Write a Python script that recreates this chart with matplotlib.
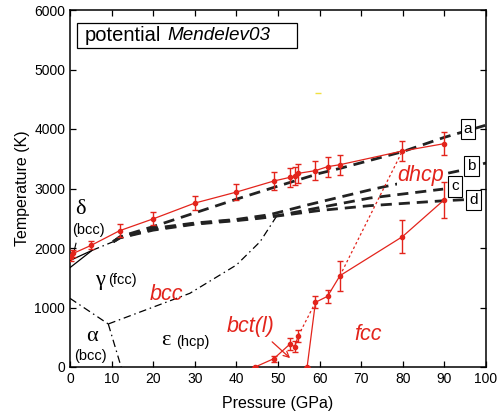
import matplotlib
matplotlib.use("Agg")
import matplotlib.pyplot as plt
from matplotlib.patches import Rectangle

plt.rcParams['font.family'] = ['Liberation Sans', 'DejaVu Sans']

RED = '#e3241c'

# upper melting curve (simulation)
melt_P = [0.3, 0.8, 5.1, 11.9, 20, 30, 40, 49, 52.9, 54, 54.9, 59, 61.9, 64.9, 79.9, 89.9]
melt_T = [1843, 1910, 2045, 2290, 2490, 2755, 2940, 3126, 3188, 3210, 3255, 3300, 3367, 3400, 3630, 3753]
melt_E = [60, 60, 70, 105, 110, 118, 140, 150, 155, 150, 160, 160, 170, 170, 175, 190]

# fcc solid-solid line
fcc_P = [57.0, 59.0, 61.9, 64.9, 79.9, 89.9]
fcc_T = [0, 1087, 1188, 1535, 2190, 2807]
fcc_E = [0, 100, 105, 250, 280, 300]

# bct(l) line
bct_P = [44.5, 49, 52.9, 54, 54.9]
bct_T = [0, 140, 387, 342, 527]
bct_E = [0, 50, 100, 90, 100]

# experimental melting curves a-d
a_P = [10.4, 12, 20, 30, 40, 50, 60, 65, 80, 90, 100]
a_T = [2106, 2190, 2360, 2590, 2820, 3040, 3255, 3340, 3620, 3860, 4065]
b_P = [10.4, 12, 20, 30, 40, 48, 57.7, 72.9, 93.7, 100]
b_T = [2106, 2180, 2330, 2420, 2480, 2560, 2734, 2990, 3300, 3430]
c_P = [10.4, 12, 20, 30, 40, 50, 63.3, 72.1, 89.7]
c_T = [2106, 2175, 2315, 2410, 2470, 2545, 2723, 2840, 2990]
d_P = [10.4, 12, 20, 30, 40, 45.7, 60, 72, 90, 100]
d_T = [2106, 2170, 2300, 2400, 2460, 2500, 2630, 2711, 2795, 2830]

curve_labels = ['a', 'b', 'c', 'd']
label_P = [95.7, 96.5, 92.5, 97.0]
label_T = [4003, 3373, 3034, 2807]

# known iron phase boundaries (dash-dot)
ag_P = [0, 9.2]
ag_T = [1154, 723]
ae_P = [9.2, 12.3]
ae_T = [723, 0]
ge_P = [9.2, 28.8, 40, 45.7, 49.7]
ge_T = [723, 1238, 1714, 2106, 2538]
gl_P = [5.3, 10.4]
gl_T = [1960, 2106]
# delta region boundaries (solid)
dg1_P = [0, 5.3]
dg1_T = [1670, 1960]
dg2_P = [0, 5.3]
dg2_T = [1790, 1960]

fig = plt.figure(figsize=(5.01, 4.16), dpi=100)
ax = fig.add_axes([70/501, 49/416, 416/501, 357/416])

# black phase boundaries
for P, T in [(ag_P, ag_T), (ae_P, ae_T), (ge_P, ge_T), (gl_P, gl_T)]:
    ax.plot(P, T, color='black', lw=0.9, dashes=(6, 3, 1.2, 3))
for P, T in [(dg1_P, dg1_T), (dg2_P, dg2_T)]:
    ax.plot(P, T, color='black', lw=0.9)
ax.plot([1.44, 0.65], [2079, 1854], color='black', lw=0.8)

for P, T in [(a_P, a_T), (b_P, b_T), (c_P, c_T), (d_P, d_T)]:
    ax.plot(P, T, color='#222222', lw=2.0, dashes=(4, 2.5))

# red curves
for P, T, E in [(melt_P, melt_T, melt_E), (fcc_P, fcc_T, fcc_E), (bct_P, bct_T, bct_E)]:
    ax.errorbar(P, T, yerr=E, color=RED, lw=0.9, marker='o', ms=3,
                ecolor=RED, elinewidth=1.0, capsize=2, capthick=1.0, zorder=12)
# dotted connections
ax.plot([bct_P[-1], fcc_P[1]], [bct_T[-1], fcc_T[1]], color=RED, lw=0.9, ls=(0, (2, 2)), zorder=4)
ax.plot([fcc_P[3], melt_P[14]], [fcc_T[3], melt_T[14]], color=RED, lw=0.9, ls=(0, (2, 2)), zorder=4)

# label boxes a-d
for lab, P, T in zip(curve_labels, label_P, label_T):
    ax.text(P, T, lab, ha='center', va='center', fontsize=11, zorder=10,
            bbox=dict(boxstyle='square,pad=0.2', fc='white', ec='black', lw=0.8))

# title box
ax.text(0.036, 0.928, 'potential', transform=ax.transAxes, fontsize=14.5,
        ha='left', va='center', zorder=10)
ax.text(0.233, 0.928, 'Mendelev03', transform=ax.transAxes, fontsize=13.6,
        style='italic', ha='left', va='center', zorder=10)
ax.add_patch(Rectangle((7.3/416, (367-48.3)/357), (296.7-77.3)/416, 25/357,
                       transform=ax.transAxes, fill=False, ec='black', lw=0.9, zorder=9))

# region labels
serif = ['Liberation Serif', 'DejaVu Serif']
ax.text(2.4, 2645, 'δ', family=serif, fontsize=16, ha='center', va='center')
ax.text(4.4, 2310, '(bcc)', fontsize=10.5, ha='center', va='center')
ax.text(7.2, 1460, 'γ', family=serif, fontsize=16, ha='center', va='center')
ax.text(12.5, 1460, '(fcc)', fontsize=10.5, ha='center', va='center')
ax.text(5.2, 510, 'α', family=serif, fontsize=16, ha='center', va='center')
ax.text(4.8, 190, '(bcc)', fontsize=10.5, ha='center', va='center')
ax.text(23.1, 440, 'ε', family=serif, fontsize=16, ha='center', va='center')
ax.text(29.6, 420, '(hcp)', fontsize=10.5, ha='center', va='center')

ax.text(23.3, 1220, 'bcc', color=RED, style='italic', fontsize=15.5, ha='center', va='center')
ax.text(43.3, 680, 'bct(l)', color=RED, style='italic', fontsize=15.5, ha='center', va='center')
ax.text(71.7, 540, 'fcc', color=RED, style='italic', fontsize=15.5, ha='center', va='center')
ax.text(84.4, 3220, 'dhcp', color=RED, style='italic', fontsize=15.5, ha='center', va='center',
        zorder=8, bbox=dict(boxstyle='square,pad=0.05', fc='white', ec='none'))
ax.annotate('', xy=(53.4, 118), xytext=(48.1, 454),
            arrowprops=dict(arrowstyle='->', color=RED, lw=0.9))
ax.plot([59.6], [4605], marker='_', color='#f0e040', ms=4)

ax.set_xlim(0, 100)
ax.set_ylim(0, 6000)
ax.set_xticks(range(0, 101, 10))
ax.set_yticks(range(0, 6001, 1000))
ax.tick_params(direction='in', top=True, right=True, length=4, width=0.9, labelsize=10)
for s in ax.spines.values():
    s.set_linewidth(1.1)
ax.set_xlabel('Pressure (GPa)', fontsize=11.5, labelpad=7)
ax.set_ylabel('Temperature (K)', fontsize=11.5, labelpad=3)

fig.savefig('out.png', dpi=100)
